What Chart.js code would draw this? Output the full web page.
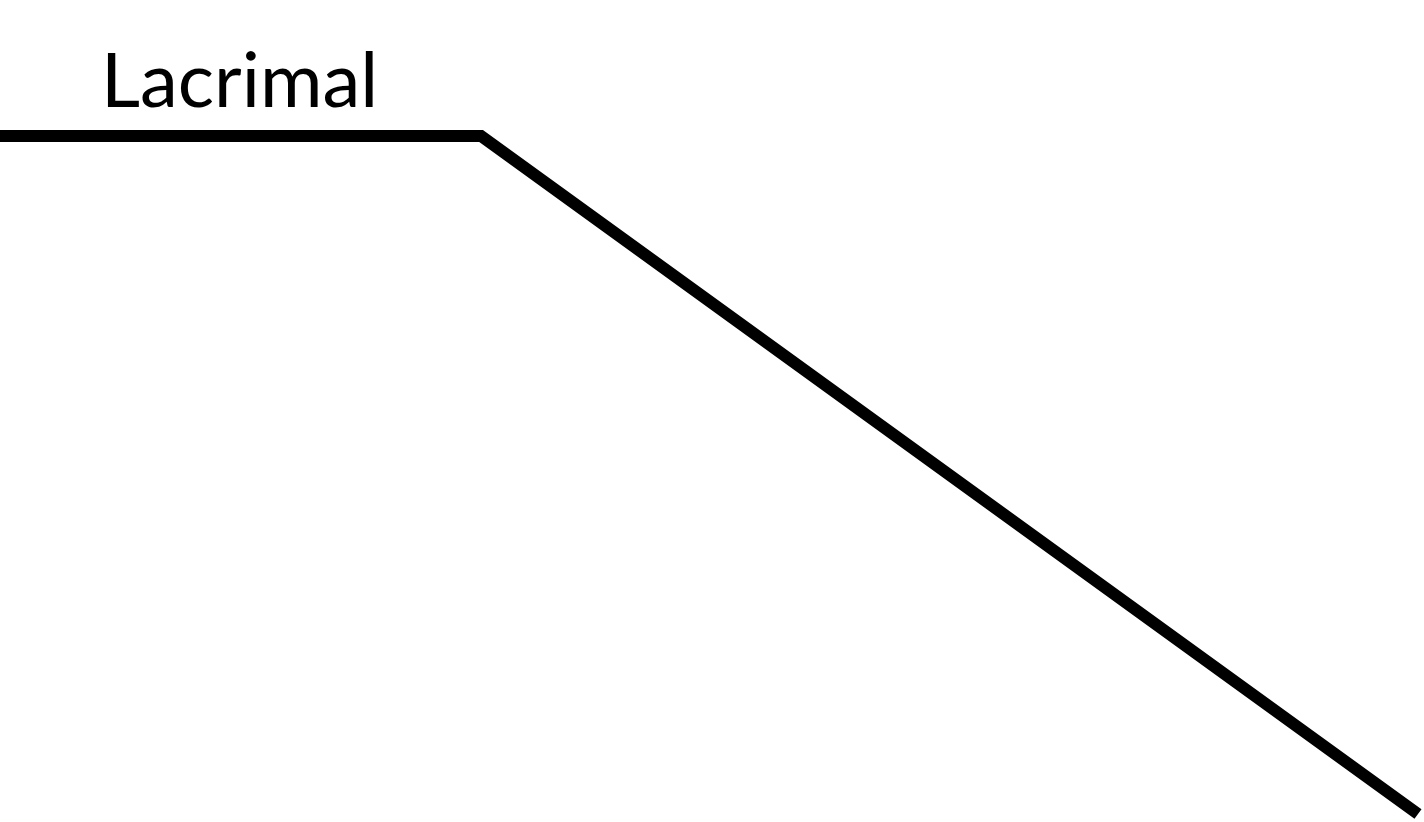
<!DOCTYPE html>
<html>
<head>
<meta charset="utf-8">
<script src="https://cdn.jsdelivr.net/npm/chart.js@4"></script>
<style>
  html, body { margin: 0; padding: 0; background: #fff; }
  #wrap { width: 1424px; height: 822px; }
</style>
</head>
<body>
<div id="wrap"><canvas id="chart"></canvas></div>
<script>
// path points (page units, y grows downward)
const pathX = [0, 481, 1418];
const pathY = [136, 136, 814];
const labelText = "Lacrimal";
const labelPos = [101, 107];

const labelPlugin = {
    id: "label",
    afterDraw(chart) {
        const ctx = chart.ctx;
        const x = chart.scales.x.getPixelForValue(labelPos[0]);
        const y = chart.scales.y.getPixelForValue(labelPos[1]);
        ctx.save();
        ctx.fillStyle = "#000";
        ctx.font = "76px Lato";
        ctx.textBaseline = "alphabetic";
        ctx.fillText(labelText, x, y);
        ctx.restore();
    }
};

const ctx = document.getElementById("chart");
new Chart(ctx, {
    type: "scatter",
    data: {
        datasets: [{
            data: pathX.map((x, i) => ({ x: x, y: pathY[i] })),
            showLine: true,
            borderColor: "#000",
            borderWidth: 12,
            borderJoinStyle: "miter",
            borderCapStyle: "butt",
            pointRadius: 0,
            fill: false,
            tension: 0
        }]
    },
    options: {
        responsive: true,
        maintainAspectRatio: false,
        animation: false,
        layout: { padding: 0 },
        plugins: { legend: { display: false }, tooltip: { enabled: false } },
        scales: {
            x: { type: "linear", min: 0, max: 1424, display: false },
            y: { type: "linear", min: 0, max: 822, reverse: true, display: false }
        }
    },
    plugins: [labelPlugin]
});
</script>
</body>
</html>
